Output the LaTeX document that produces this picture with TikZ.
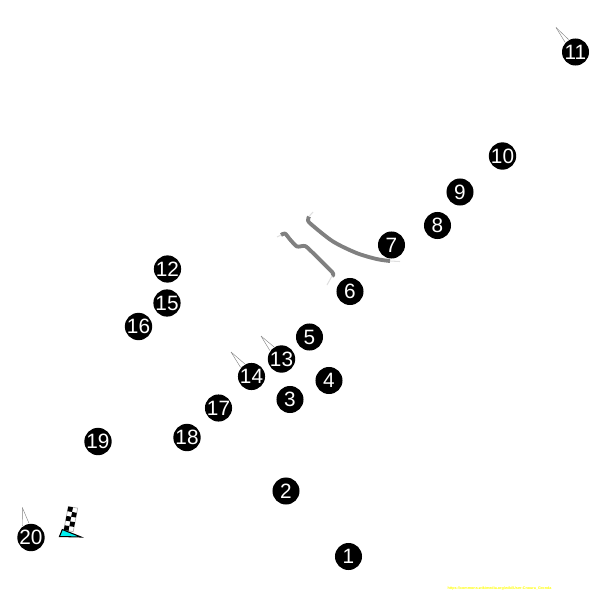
\documentclass[tikz,border=0pt]{standalone}
\usepackage{fontspec}
\setmainfont{Liberation Sans}
\definecolor{startcyan}{RGB}{0,240,240}
\definecolor{creditcol}{RGB}{255,255,0}
\begin{document}
\begin{tikzpicture}[x=0.01cm,y=-0.01cm,
  turnno/.style={circle, fill=black, text=white, inner sep=0pt, minimum size=0.27cm, font=\fontsize{5.9}{6}\selectfont},
  tipline/.style={draw=gray, line width=0.12pt},
  trackedge/.style={draw=gray, line width=1.1pt, line join=round},
  trackend/.style={draw=gray!25, line width=0.3pt}]
\useasboundingbox (0,0) rectangle (600,600);
\node[turnno] (t1) at (348.5,556.5) {1};
\node[turnno] (t2) at (286,491) {2};
\node[turnno] (t3) at (290,399.5) {3};
\node[turnno] (t4) at (329,380.5) {4};
\node[turnno] (t5) at (309.5,337) {5};
\node[turnno] (t6) at (350,291.5) {6};
\node[turnno] (t7) at (391.5,245) {7};
\node[turnno] (t8) at (437.5,225.5) {8};
\node[turnno] (t9) at (460,192) {9};
\node[turnno] (t10) at (502.5,156) {10};
\node[turnno] (t11) at (575.5,52) {11};
\node[turnno] (t12) at (167.5,269) {12};
\node[turnno] (t13) at (281.5,359) {13};
\node[turnno] (t14) at (251.5,376.5) {14};
\node[turnno] (t15) at (167,303) {15};
\node[turnno] (t16) at (138.5,326.5) {16};
\node[turnno] (t17) at (218.5,408) {17};
\node[turnno] (t18) at (187,437.5) {18};
\node[turnno] (t19) at (98,441.5) {19};
\node[turnno] (t20) at (31,537.5) {20};
\coordinate (tip11) at (556,27.5);
\coordinate (tip13) at (261,336);
\coordinate (tip14) at (231,352);
\coordinate (tip20) at (22.3,507.5);
\draw[tipline] (tip11) -- (t11.137);
\draw[tipline] (tip11) -- (t11.119);
\draw[tipline] (tip13) -- (t13.144);
\draw[tipline] (tip13) -- (t13.122);
\draw[tipline] (tip14) -- (t14.140);
\draw[tipline] (tip14) -- (t14.118);
\draw[tipline] (tip20) -- (t20.126);
\draw[tipline] (tip20) -- (t20.98);
% track
\draw[trackedge] plot[smooth, tension=0.5] coordinates {(309,216.5) (308,220.5) (312,225) (333,241.5) (356.5,253) (376.5,259) (390,261)};
\draw[trackedge] plot[smooth, tension=0.4] coordinates {(281,235) (285,233.5) (290.5,240) (297,246.5) (305,246) (312,252) (332.5,272.5) (332,276)};
\draw[trackend] (309,216.5) -- (313,212);
\draw[trackend] (390,261) -- (400,261.5);
\draw[trackend] (281,235) -- (277,237);
\draw[trackend] (332,276) -- (327,285);
% flag
\draw[gray!60, line width=0.2pt, fill=white] (68.3,506.5) -- (77.7,508.1) -- (73.2,531.6) -- (63.8,530) -- cycle;
\foreach \row in {0,...,4} {
  \foreach \col in {0,1} {
    \pgfmathtruncatemacro{\odd}{mod(\row+\col,2)}
    \ifnum\odd=0
      \fill[black] ({68.3+\col*4.7-\row*0.9},{506.5+\col*0.8+\row*4.7}) -- ++(4.7,0.8) -- ++(-0.9,4.7) -- ++(-4.7,-0.8) -- cycle;
    \fi
  }
}
\fill[startcyan] (62.3,529.5) -- (81,537) -- (59.5,536.5) -- cycle;
\draw[black, line width=0.3pt] (62.3,529.5) -- (59.5,536.5) -- (81,537) -- cycle;
\node[text=creditcol, inner sep=0pt, font=\bfseries\fontsize{1.07}{2}\selectfont] (credit) at (499.5,588.5) {https://commons.wikimedia.org/wiki/User:Cnoura\_Gronda};
\end{tikzpicture}
\end{document}
